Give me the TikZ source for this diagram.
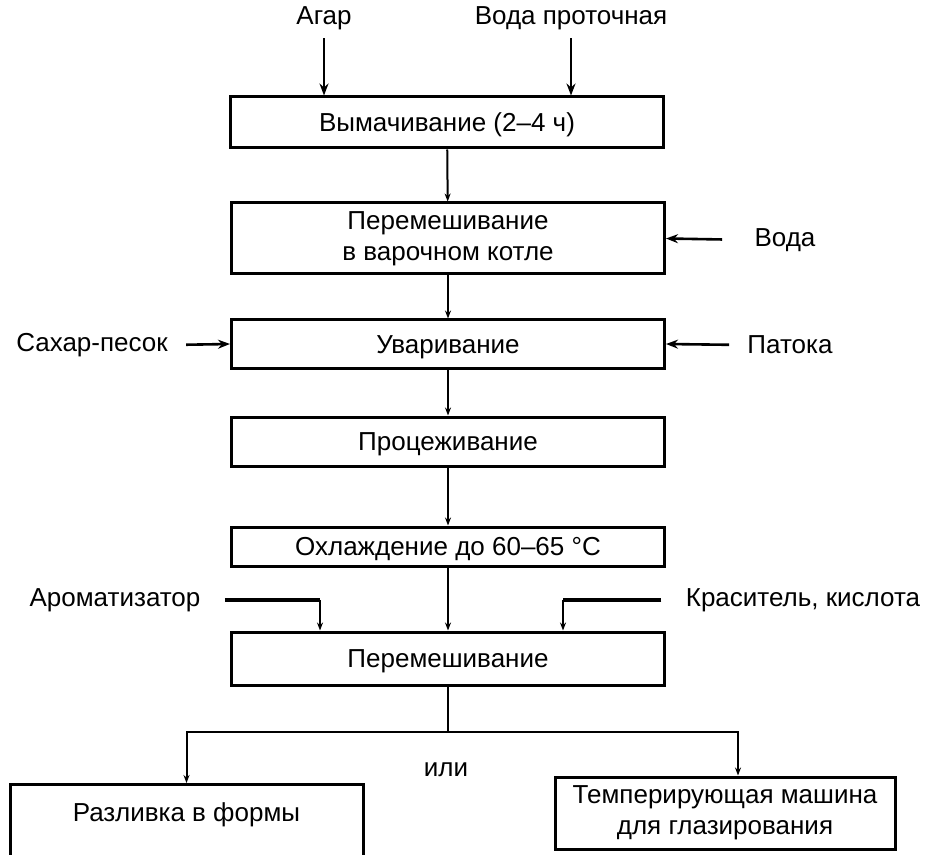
\documentclass[tikz,border=0pt]{standalone}
\usepackage{fontspec}
\setmainfont{Liberation Sans}
\usetikzlibrary{arrows.meta}
\tikzset{
  stage/.style={draw, line width=1.5pt, minimum width=216.5pt, inner sep=2pt, align=center, font=\fontsize{13}{15.5}\selectfont},
  oneline/.style={text height=9.5pt, text depth=0.5pt},
  inlabel/.style={inner sep=1pt, font=\fontsize{13}{15.5}\selectfont},
  feed/.style={line width=1.3pt, -{Stealth[length=6pt,width=4.5pt]}},
  flow/.style={line width=1pt, -{Stealth[length=4pt,width=3pt]}},
}
\begin{document}
\begin{tikzpicture}[x=0.5pt,y=-0.5pt]
  \useasboundingbox (0,0) rectangle (925,855);
  % Stages
  \node[stage, oneline, minimum height=25.5pt] (soak) at (447,122.5) {Вымачивание (2–4 ч)};
  \node[stage, minimum height=35.5pt] (mix) at (448,238.5) {Перемешивание\\в варочном котле};
  \node[stage, oneline, minimum height=24pt] (boil) at (448,344) {Уваривание};
  \node[stage, oneline, minimum height=24.5pt] (strain) at (448,441.5) {Процеживание};
  \node[stage, oneline, minimum height=19.5pt] (cool) at (448,546.5) {Охлаждение до 60–65 °C};
  \node[stage, oneline, minimum height=26.5pt] (blend) at (448,658.5) {Перемешивание};
  % Final stages
  \node[stage, minimum width=176.5pt, anchor=north, text height=9.5pt, text depth=36pt, inner ysep=9pt] (pour) at (186.5,783) {Разливка в формы};
  \node[stage, minimum width=170pt, minimum height=36pt] (temper) at (725,813) {Темперирующая машина\\для глазирования};
  \node[inlabel] (or) at (446,770) {или};
  % Inputs
  \node[inlabel] (agar) at (324,18) {Агар};
  \node[inlabel] (runwater) at (571,18) {Вода проточная};
  \node[inlabel] (water) at (785,240) {Вода};
  \node[inlabel] (sugar) at (92,345) {Сахар-песок};
  \node[inlabel] (syrup) at (790,345) {Патока};
  \node[inlabel] (aroma) at (115,600) {Ароматизатор};
  \node[inlabel] (dye) at (803,600) {Краситель, кислота};
  \coordinate (flavin) at ([xshift=-64pt]blend.north);
  \coordinate (dyein) at ([xshift=57.5pt]blend.north);
  % Input arrows
  \draw[feed, shorten <=3pt] (agar.south) -- (agar |- soak.north);
  \draw[feed, shorten <=3pt] (runwater.south) -- (runwater |- soak.north);
  \draw[feed, shorten <=15pt] (water.west) -- (mix.east);
  \draw[feed, shorten <=8pt] (sugar.east) -- (boil.west);
  \draw[feed, shorten <=8pt] (syrup.west) -- (boil.east);
  \draw[line width=1.6pt, shorten <=11pt] (aroma.east) -- (aroma.east -| flavin);
  \draw[flow] (aroma.east -| flavin) -- (flavin);
  \draw[line width=1.6pt, shorten <=11pt] (dye.west) -- (dye.west -| dyein);
  \draw[flow] (dye.west -| dyein) -- (dyein);
  % Main flow
  \draw[flow] (soak) -- (mix);
  \draw[flow] (mix) -- (boil);
  \draw[flow] (boil) -- (strain);
  \draw[flow] (strain) -- (cool);
  \draw[flow] (cool) -- (blend);
  % Branch
  \draw[line width=1pt] (blend.south) -- ++(0,45) coordinate (fork);
  \draw[flow] (fork) -| (pour);
  \draw[flow] (fork) -| ([xshift=6.5pt]temper.north);
\end{tikzpicture}
\end{document}
